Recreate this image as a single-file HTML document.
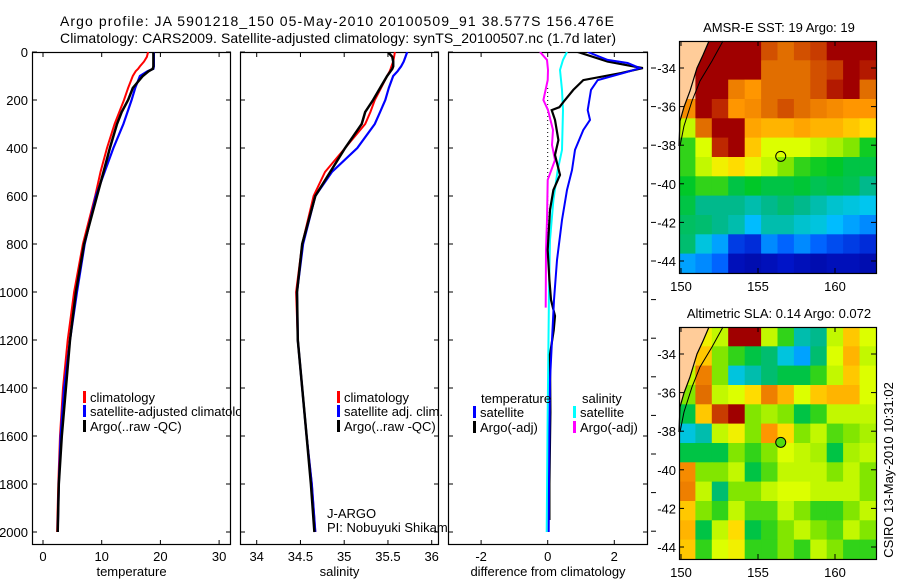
<!DOCTYPE html>
<html><head><meta charset="utf-8"><style>
html,body{margin:0;padding:0;background:#fff;}
svg{display:block;font-family:"Liberation Sans",sans-serif;}
</style></head><body>
<svg id="fig" width="900" height="580" viewBox="0 0 900 580" xmlns="http://www.w3.org/2000/svg">
<rect width="900" height="580" fill="#fff"/>
<text x="60" y="26" font-size="14" textLength="554">Argo profile: JA 5901218_150 05-May-2010 20100509_91 38.577S 156.476E</text>
<text x="60" y="43" font-size="14" textLength="556">Climatology: CARS2009. Satellite-adjusted climatology: synTS_20100507.nc (1.7d later)</text>
<g id="g"></g>
</svg>
<script>
// ---- profile data ----
const depths = [0,20,40,60,70,80,100,150,200,250,300,400,500,600,800,1000,1200,1400,1600,1800,2000];
const tClim = [17.9,17.7,17.2,16.5,16.2,15.8,15.3,14.5,13.8,13.0,12.2,10.9,9.8,8.9,6.8,5.3,4.2,3.4,2.9,2.6,2.4];
const tSat  = [18.9,18.9,18.9,18.9,18.8,17.8,16.5,15.7,15.1,14.4,13.7,12.0,10.5,9.0,7.1,5.8,4.6,3.6,3.0,2.7,2.5];
const tArgo = [18.8,18.8,18.8,18.8,18.7,18.0,17.0,15.3,14.5,13.4,12.6,11.4,10.3,9.2,7.0,5.6,4.6,3.9,3.2,2.7,2.5];
const sClim = [35.58,35.57,35.56,35.54,35.53,35.52,35.49,35.42,35.35,35.30,35.24,35.01,34.78,34.65,34.52,34.45,34.47,34.52,34.57,34.63,34.67];
const sSat  = [35.72,35.70,35.68,35.65,35.63,35.61,35.56,35.51,35.47,35.41,35.35,35.15,34.86,34.67,34.53,34.46,34.47,34.52,34.57,34.63,34.67];
const sArgo = [35.50,35.55,35.56,35.56,35.55,35.53,35.49,35.41,35.33,35.24,35.20,35.01,34.84,34.67,34.52,34.46,34.47,34.52,34.57,34.62,34.66];
// ---- difference data ----
const dTSatDepth = [0,33,46,67,88,117,158,242,283,325,408,492,575,700,867,1033,1200,1367,1600,1800,2000];
const dTSat = [1.2,1.8,2.4,2.77,2.27,1.5,1.3,1.2,1.27,1.07,0.82,0.73,0.58,0.43,0.28,0.19,0.13,0.07,0.05,0.04,0.03];
const dTArgoDepth = [0,40,67,88,117,158,200,230,242,283,367,429,512,575,658,825,950,1033,1100,1160,1260,1500,1800,1950];
const dTArgo = [0.9,1.8,2.86,2.2,1.07,0.77,0.52,0.35,0.12,0.22,0.32,0.22,0.37,0.17,0.07,0.0,0.05,0.1,0.22,0.18,0.07,0.08,0.05,0.05];
const dSSatDepth = [0,33,75,158,242,408,492,617,783,1000,1500,2000];
const dSSat = [0.58,0.46,0.37,0.43,0.46,0.43,0.3,0.17,0.07,0.04,0.0,-0.03];
const dSArgoDepth = [0,33,75,117,200,242,325,387,450,533,700,825,1065];
const dSArgo = [-0.23,-0.02,0.01,0,-0.13,0.01,0.16,0.13,0.22,0,-0.02,-0.05,-0.06];
// ---- tick labels ----
const depthTicks = [0,200,400,600,800,1000,1200,1400,1600,1800,2000];
const tTicks = [0,10,20,30];
const sTicks = [34,34.5,35,35.5,36];
const sTickLabels = ["34","34.5","35","35.5","36"];
const dTicks = [-2,0,2];
const latTicks = [-34,-36,-38,-40,-42,-44];
const lonTicks = [150,155,160];
// ---- map grids (colormap values 0..1, -1 = land) ----
const sstGrid = [
[-1,1,1,1,1,0.88,0.85,0.88,0.9,1,1,1],
[-1,1,1,1,1,0.85,0.85,0.85,0.88,0.9,1,0.95],
[-1,1,1,0.82,0.78,0.85,0.85,0.85,0.88,0.95,1,0.85],
[0.8,1,0.92,0.78,0.8,0.85,0.88,0.85,0.82,0.8,0.78,0.78],
[0.6,0.85,1,1,0.75,0.72,0.72,0.75,0.72,0.72,0.7,0.68],
[0.5,0.62,0.92,1,0.7,0.62,0.62,0.62,0.6,0.58,0.55,0.48],
[0.5,0.6,0.65,0.68,0.64,0.6,0.55,0.5,0.48,0.47,0.45,0.45],
[0.47,0.5,0.5,0.45,0.47,0.45,0.45,0.46,0.44,0.45,0.44,0.4],
[0.45,0.4,0.4,0.4,0.38,0.4,0.42,0.4,0.38,0.36,0.35,0.34],
[0.43,0.42,0.4,0.38,0.32,0.38,0.38,0.36,0.35,0.32,0.3,0.28],
[0.42,0.35,0.3,0.2,0.18,0.28,0.25,0.28,0.25,0.22,0.2,0.18],
[0.3,0.28,0.25,0.12,0.1,0.12,0.15,0.12,0.1,0.12,0.12,0.1]];
const slaGrid = [
[-1,0.65,0.6,1,1,0.6,0.5,0.38,0.4,0.6,0.7,0.62],
[-1,0.7,0.55,0.5,0.45,0.42,0.35,0.3,0.42,0.62,0.72,0.6],
[0.6,0.82,0.55,0.35,0.38,0.42,0.45,0.45,0.5,0.6,0.7,0.62],
[0.55,0.85,0.6,0.62,0.68,0.82,0.72,0.62,0.7,0.72,0.72,0.62],
[0.45,0.7,0.9,1,0.55,0.58,0.55,0.45,0.5,0.6,0.6,0.6],
[0.35,0.38,0.6,0.65,0.55,0.78,0.68,0.55,0.6,0.52,0.55,0.58],
[0.45,0.45,0.45,0.55,0.5,0.55,0.62,0.6,0.58,0.45,0.58,0.6],
[0.8,0.55,0.55,0.6,0.45,0.52,0.6,0.6,0.6,0.55,0.6,0.55],
[0.82,0.6,0.42,0.55,0.55,0.6,0.62,0.62,0.6,0.6,0.6,0.55],
[0.7,0.55,0.5,0.6,0.52,0.52,0.6,0.55,0.5,0.5,0.55,0.6],
[0.72,0.45,0.6,0.68,0.45,0.5,0.55,0.6,0.55,0.52,0.6,0.55],
[0.7,0.5,0.62,0.65,0.5,0.5,0.55,0.5,0.6,0.55,0.5,0.5]];
const floatLon = 156.476, floatLat = -38.577;

const NS="http://www.w3.org/2000/svg";
const G=document.getElementById('g');
function mk(tag,attrs,parent){const e=document.createElementNS(NS,tag);for(const k in attrs)e.setAttribute(k,attrs[k]);(parent||G).appendChild(e);return e;}
function txt(x,y,s,size,anchor,parent){const t=mk('text',{x:x,y:y,'font-size':size,'text-anchor':anchor||'start'},parent);t.textContent=s;return t;}

const PT=52, PB=545;
const yD = d => 52 + d*0.24;
const panels=[
 {x0:32,x1:231,sx:v=>43+v*5.87},
 {x0:240,x1:439,sx:v=>256.7+(v-34)*87.5},
 {x0:448,x1:648,sx:v=>547.7+v*33.3}];
panels.forEach((p,i)=>{
 const c=mk('clipPath',{id:'cp'+i});mk('rect',{x:p.x0,y:PT,width:p.x1-p.x0,height:PB-PT},c);
});
function line(xs,ds,sx,color,w,name,clip){
 const pts=xs.map((v,i)=>sx(v).toFixed(1)+','+yD(ds[i]).toFixed(1)).join(' ');
 const el=mk('polyline',{points:pts,fill:'none',stroke:color,'stroke-width':w,'clip-path':'url(#'+clip+')'});
 
 
 return el;
}
function frame(p,name){
 const g=mk('g',{});
 
 
 mk('rect',{x:p.x0,y:PT,width:p.x1-p.x0,height:PB-PT,fill:'#fff'},g);
 return g;
}
function axes(p,g,xt,xlabels,xtitle,showY){
 mk('rect',{x:p.x0+0.5,y:PT+0.5,width:p.x1-p.x0-1,height:PB-PT-1,fill:'none',stroke:'#000','stroke-width':1.2},g);
 depthTicks.forEach(d=>{const y=yD(d);
  mk('line',{x1:p.x0,x2:p.x0+5,y1:y,y2:y,stroke:'#000'},g);
  mk('line',{x1:p.x1-5,x2:p.x1,y1:y,y2:y,stroke:'#000'},g);
  if(showY){const t=txt(28,y+5,String(d),13,'end',g);}
 });
 xt.forEach((v,k)=>{const x=p.sx(v);
  mk('line',{x1:x,x2:x,y1:PB-5,y2:PB,stroke:'#000'},g);
  mk('line',{x1:x,x2:x,y1:PT,y2:PT+5,stroke:'#000'},g);
  const t=txt(x,561,xlabels[k],13,'middle',g);
 });
 const t=txt((p.x0+p.x1)/2,576,xtitle,13,'middle',g);
 
}
function legend(g,x,y,color,label,name){
 mk('rect',{x:x,y:y-6,width:3,height:12,fill:color},g);
 const t=txt(x+7,y+5,label,13,'start',g);
 
 
}
// Panel 1
const p1=panels[0];
const g1=frame(p1,'temperature-panel');
line(tClim,depths,p1.sx,'#ff0000',2,'temp-climatology-line','cp0');
line(tSat,depths,p1.sx,'#0000ff',2.2,'temp-satellite-line','cp0');
line(tArgo,depths,p1.sx,'#000',2.5,'temp-argo-line','cp0');
legend(G,83,397,'#ff0000','climatology','legend-climatology');
legend(G,83,411,'#0000ff','satellite-adjusted climatology','legend-satellite-adjusted');
legend(G,83,426,'#000','Argo(..raw -QC)','legend-argo');
axes(p1,g1,tTicks,tTicks.map(String),'temperature',true);
// Panel 2
const p2=panels[1];
const g2=frame(p2,'salinity-panel');
line(sClim,depths,p2.sx,'#ff0000',2,'sal-climatology-line','cp1');
line(sSat,depths,p2.sx,'#0000ff',2.2,'sal-satellite-line','cp1');
line(sArgo,depths,p2.sx,'#000',2.5,'sal-argo-line','cp1');
legend(G,337,397,'#ff0000','climatology','legend-sal-climatology');
legend(G,337,411,'#0000ff','satellite adj. clim.','legend-sal-satellite');
legend(G,337,426,'#000','Argo(..raw -QC)','legend-sal-argo');
const pi1=txt(327,518,'J-ARGO',13,'start');
const pi2=txt(327,532,'PI: Nobuyuki Shikama',13,'start');
axes(p2,g2,sTicks,sTickLabels,'salinity',false);
// Panel 3
const p3=panels[2];
const g3=frame(p3,'difference-panel');
mk('line',{x1:p3.sx(0),x2:p3.sx(0),y1:yD(150),y2:yD(800),stroke:'#000','stroke-width':1,'stroke-dasharray':'1,3'});
line(dSArgo,dSArgoDepth,p3.sx,'#ff00ff',2,'diff-sal-argo-line','cp2');
line(dSSat,dSSatDepth,p3.sx,'#00ffff',2,'diff-sal-satellite-line','cp2');
line(dTArgo,dTArgoDepth,p3.sx,'#000',2.2,'diff-temp-argo-line','cp2');
line(dTSat,dTSatDepth,p3.sx,'#0000ff',2,'diff-temp-satellite-line','cp2');
const th=txt(481,403,'temperature',13,'start');
legend(G,473,412,'#0000ff','satellite','legend-diff-temp-satellite');
legend(G,473,427,'#000','Argo(-adj)','legend-diff-temp-argo');
const sh=txt(582,403,'salinity',13,'start');
legend(G,573,412,'#00ffff','satellite','legend-diff-sal-satellite');
legend(G,573,427,'#ff00ff','Argo(-adj)','legend-diff-sal-argo');
axes(p3,g3,dTicks,dTicks.map(String),'difference from climatology',false);
for(let k=0;k<13;k++){const y=68+38.6*k;mk('line',{x1:651,x2:656,y1:y,y2:y,stroke:'#000'});}

// ---- maps ----
const cmapStops=[[0,[0,0,128]],[0.15,[0,20,200]],[0.25,[0,100,255]],[0.33,[0,200,255]],[0.4,[0,185,140]],[0.47,[0,200,40]],[0.55,[130,230,0]],[0.62,[220,255,0]],[0.67,[255,230,0]],[0.72,[255,180,0]],[0.78,[255,150,0]],[0.85,[225,110,0]],[0.92,[190,40,0]],[1,[160,0,0]]];
function cmap(v){
 for(let i=1;i<cmapStops.length;i++){const [a,ca]=cmapStops[i-1],[b,cb]=cmapStops[i];
  if(v<=b){const f=(v-a)/(b-a);return 'rgb('+ca.map((c,k)=>Math.round(c+(cb[k]-c)*f)).join(',')+')';}}
 return 'rgb(160,0,0)';
}
const LON0=149.87, LON1=162.66, LAT0=-32.6, LAT1=-44.62;
function drawMap(grid,off,title,name,circleFill){
 const g=mk('g',{});
 
 
 const mx=lon=>681+(lon-150)*15.4, my=lat=>68+off+(-34-lat)*19.3;
 const rows=grid.length, cols=grid[0].length;
 const dLon=(LON1-LON0)/cols, dLat=(LAT0-LAT1)/rows;
 grid.forEach((row,r)=>row.forEach((v,c)=>{
  const x0=mx(LON0+c*dLon), x1=mx(LON0+(c+1)*dLon), y0=my(LAT0-r*dLat), y1=my(LAT0-(r+1)*dLat);
  const cell=mk('rect',{x:x0.toFixed(1),y:y0.toFixed(1),width:(x1-x0+0.5).toFixed(1),height:(y1-y0+0.5).toFixed(1),fill:v<0?'#ffcc99':cmap(v)},g);
  
  
 }));
 const top=my(LAT0);
 const land=mk('polygon',{points:`679,${top} 709,${top} 703,${top+14} 697,${top+27} 690,${top+50} 684,${top+66} 680,${top+80} 679,${top+80}`,fill:'#ffcc99'},g);
 
 mk('polyline',{points:`709,${top} 703,${top+14} 697,${top+27} 690,${top+50} 684,${top+66} 680,${top+80} 679,${top+105}`,fill:'none',stroke:'#000','stroke-width':1.2},g);
 mk('polyline',{points:`723,${top} 712,${top+20} 700,${top+40} 692,${top+60} 684,${top+85} 680,${top+105}`,fill:'none',stroke:'#000','stroke-width':1},g);
 mk('rect',{x:679.5,y:top+0.5,width:197,height:232,fill:'none',stroke:'#000','stroke-width':1.2},g);
 latTicks.forEach(l=>{const y=my(l);
  mk('line',{x1:679,x2:684,y1:y,y2:y,stroke:'#000'},g);mk('line',{x1:871,x2:876,y1:y,y2:y,stroke:'#000'},g);
  const t=txt(676,y+5,String(l),13,'end',g);});
 lonTicks.forEach(l=>{const x=mx(l);
  mk('line',{x1:x,x2:x,y1:top,y2:top+5,stroke:'#000'},g);mk('line',{x1:x,x2:x,y1:top+227,y2:top+232,stroke:'#000'},g);
  const t=txt(x,top+250,String(l),13,'middle',g);});
 const ci=mk('circle',{cx:mx(floatLon),cy:my(floatLat),r:5,fill:circleFill,stroke:'#000','stroke-width':1},g);
 
 const tt=txt(779,top-9,title,13,'middle',g);
}
drawMap(sstGrid,0,'AMSR-E SST: 19 Argo: 19','sst-map','none');
drawMap(slaGrid,286,'Altimetric SLA: 0.14 Argo: 0.072','sla-map',cmap(0.52));
const stamp=mk('text',{x:0,y:0,'font-size':13,'text-anchor':'middle',transform:'translate(893,470) rotate(-90)'});
stamp.textContent='CSIRO 13-May-2010 10:31:02';


</script>
</body></html>
